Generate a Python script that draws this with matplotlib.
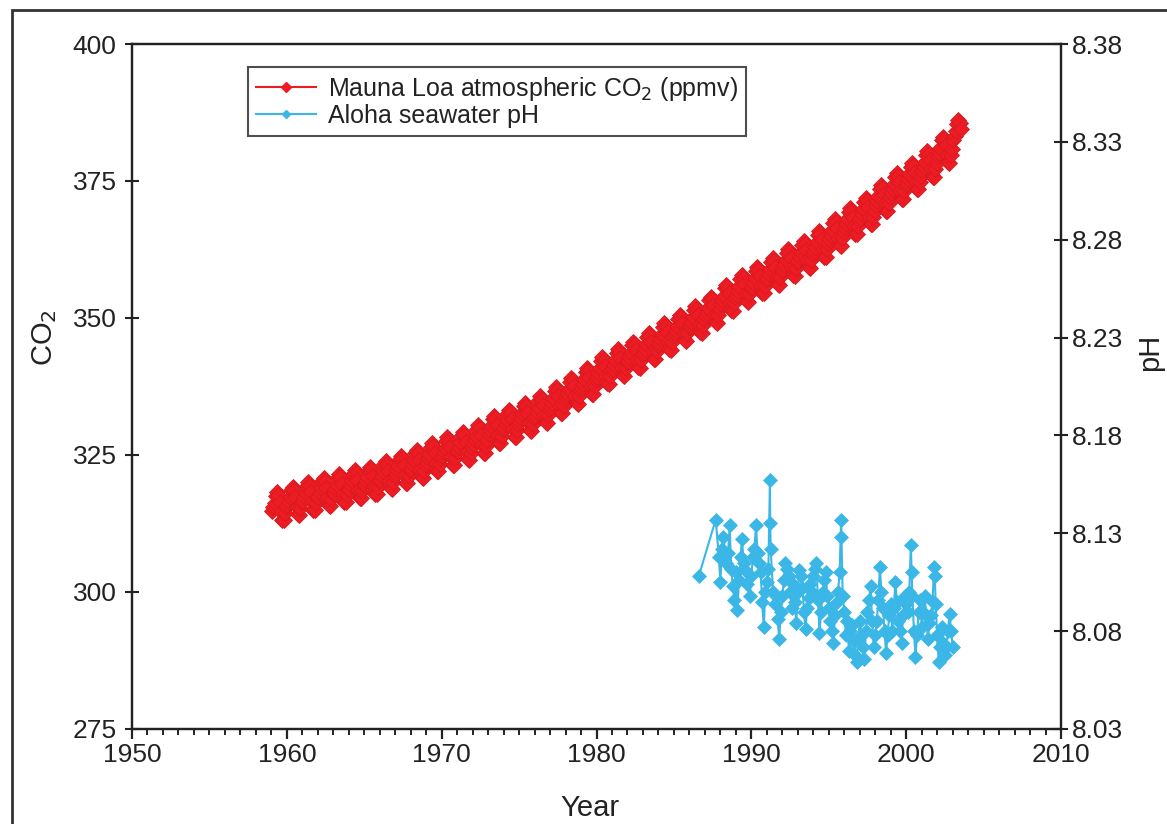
import matplotlib
matplotlib.use('Agg')
import matplotlib.pyplot as plt
from matplotlib.lines import Line2D
from matplotlib.patches import Rectangle

plt.rcParams['font.family'] = ['Liberation Sans', 'DejaVu Sans']

# Mauna Loa CO2 (ppmv): one row per year, monthly Jan..Dec
co2_years = list(range(1959, 2004))
co2_rows = [
    [314.8, 315.5, 316.3, 317.6, 318.2, 317.7, 316.4, 314.6, 313.2, 313.1, 314.4, 315.5],
    [315.8, 316.5, 317.3, 318.6, 319.2, 318.7, 317.4, 315.6, 314.2, 314.1, 315.4, 316.5],
    [316.6, 317.3, 318.1, 319.4, 320.0, 319.5, 318.2, 316.4, 315.0, 314.9, 316.2, 317.3],
    [317.4, 318.1, 318.9, 320.2, 320.8, 320.3, 319.0, 317.2, 315.8, 315.7, 317.0, 318.1],
    [318.1, 318.8, 319.6, 320.9, 321.5, 321.0, 319.7, 317.9, 316.5, 316.4, 317.7, 318.8],
    [318.8, 319.5, 320.3, 321.6, 322.2, 321.7, 320.4, 318.6, 317.2, 317.1, 318.4, 319.5],
    [319.5, 320.2, 321.0, 322.3, 322.9, 322.4, 321.1, 319.3, 317.9, 317.8, 319.1, 320.2],
    [320.5, 321.2, 322.0, 323.3, 323.9, 323.4, 322.1, 320.3, 318.9, 318.8, 320.1, 321.2],
    [321.5, 322.2, 323.0, 324.3, 324.9, 324.4, 323.1, 321.3, 319.9, 319.8, 321.1, 322.2],
    [322.5, 323.2, 324.0, 325.3, 325.9, 325.4, 324.1, 322.3, 320.9, 320.8, 322.1, 323.2],
    [323.7, 324.4, 325.2, 326.5, 327.1, 326.6, 325.3, 323.5, 322.1, 322.0, 323.3, 324.4],
    [324.8, 325.5, 326.3, 327.6, 328.2, 327.7, 326.4, 324.6, 323.2, 323.1, 324.4, 325.5],
    [325.8, 326.5, 327.3, 328.6, 329.2, 328.7, 327.4, 325.6, 324.2, 324.1, 325.4, 326.5],
    [327.0, 327.7, 328.5, 329.8, 330.4, 329.9, 328.6, 326.8, 325.4, 325.3, 326.6, 327.7],
    [328.8, 329.5, 330.3, 331.6, 332.2, 331.7, 330.4, 328.6, 327.2, 327.1, 328.4, 329.5],
    [329.9, 330.6, 331.4, 332.7, 333.3, 332.8, 331.5, 329.7, 328.3, 328.2, 329.5, 330.6],
    [331.1, 331.8, 332.6, 333.9, 334.5, 334.0, 332.7, 330.9, 329.5, 329.4, 330.7, 331.8],
    [332.1, 332.8, 333.7, 335.0, 335.7, 335.2, 334.1, 332.3, 331.0, 330.9, 332.3, 333.4],
    [333.8, 334.5, 335.4, 336.7, 337.4, 336.9, 335.8, 334.0, 332.7, 332.6, 334.0, 335.1],
    [335.5, 336.2, 337.1, 338.4, 339.1, 338.6, 337.5, 335.7, 334.4, 334.3, 335.7, 336.8],
    [337.3, 338.0, 338.9, 340.2, 340.9, 340.4, 339.3, 337.5, 336.2, 336.1, 337.5, 338.6],
    [339.2, 339.9, 340.8, 342.1, 342.8, 342.3, 341.2, 339.4, 338.1, 338.0, 339.4, 340.5],
    [340.7, 341.4, 342.3, 343.6, 344.3, 343.8, 342.7, 340.9, 339.6, 339.5, 340.9, 342.0],
    [342.1, 342.8, 343.7, 345.0, 345.7, 345.2, 344.1, 342.3, 341.0, 340.9, 342.3, 343.4],
    [343.7, 344.4, 345.3, 346.6, 347.3, 346.8, 345.7, 343.9, 342.6, 342.5, 343.9, 345.0],
    [345.4, 346.1, 347.0, 348.3, 349.0, 348.5, 347.4, 345.6, 344.3, 344.2, 345.6, 346.7],
    [347.0, 347.7, 348.6, 349.9, 350.6, 350.1, 349.0, 347.2, 345.9, 345.8, 347.2, 348.3],
    [348.5, 349.2, 350.1, 351.4, 352.1, 351.6, 350.5, 348.7, 347.4, 347.3, 348.7, 349.8],
    [350.3, 351.0, 351.9, 353.2, 353.9, 353.4, 352.3, 350.5, 349.2, 349.1, 350.5, 351.6],
    [352.5, 353.2, 354.1, 355.4, 356.1, 355.6, 354.5, 352.7, 351.4, 351.3, 352.7, 353.8],
    [354.2, 354.9, 355.8, 357.1, 357.8, 357.3, 356.2, 354.4, 353.1, 353.0, 354.4, 355.5],
    [355.7, 356.4, 357.3, 358.6, 359.3, 358.8, 357.7, 355.9, 354.6, 354.5, 355.9, 357.0],
    [357.3, 358.0, 358.9, 360.2, 360.9, 360.4, 359.3, 357.5, 356.2, 356.1, 357.5, 358.6],
    [358.9, 359.6, 360.5, 361.8, 362.5, 362.0, 360.9, 359.1, 357.8, 357.7, 359.1, 360.2],
    [360.4, 361.1, 362.0, 363.3, 364.0, 363.5, 362.4, 360.6, 359.3, 359.2, 360.6, 361.7],
    [362.3, 363.0, 363.9, 365.2, 365.9, 365.4, 364.3, 362.5, 361.2, 361.1, 362.5, 363.6],
    [364.4, 365.1, 366.0, 367.3, 368.0, 367.5, 366.4, 364.6, 363.3, 363.2, 364.6, 365.7],
    [366.5, 367.2, 368.1, 369.4, 370.1, 369.6, 368.5, 366.7, 365.4, 365.3, 366.7, 367.8],
    [368.3, 369.0, 369.9, 371.2, 371.9, 371.4, 370.3, 368.5, 367.2, 367.1, 368.5, 369.6],
    [370.7, 371.4, 372.3, 373.6, 374.3, 373.8, 372.7, 370.9, 369.6, 369.5, 370.9, 372.0],
    [372.9, 373.6, 374.5, 375.8, 376.5, 376.0, 374.9, 373.1, 371.8, 371.7, 373.1, 374.2],
    [374.7, 375.4, 376.3, 377.6, 378.3, 377.8, 376.7, 374.9, 373.6, 373.5, 374.9, 376.0],
    [376.9, 377.6, 378.5, 379.8, 380.5, 380.0, 378.9, 377.1, 375.8, 375.7, 377.1, 378.2],
    [379.5, 380.2, 381.1, 382.4, 383.1, 382.6, 381.5, 379.7, 378.4, 378.3, 379.7, 380.8],
    [382.5, 383.2, 384.1, 385.4, 386.1, 385.6, 384.5],
]

# Aloha seawater pH
ph_year = [1986.6, 1987.7, 1987.9, 1988.0, 1988.1, 1988.2, 1988.35, 1988.5, 1988.6, 1988.7,
           1988.8, 1988.9, 1989.0, 1989.1, 1989.2, 1989.3, 1989.4, 1989.5, 1989.6, 1989.75,
           1989.9, 1990.0, 1990.1, 1990.2, 1990.3, 1990.4, 1990.5, 1990.6, 1990.7, 1990.8,
           1990.9, 1991.0, 1991.1, 1991.2, 1991.22, 1991.25, 1991.4, 1991.5, 1991.6, 1991.7,
           1991.8, 1991.9, 1992.0, 1992.1, 1992.2, 1992.3, 1992.4, 1992.5, 1992.6, 1992.7,
           1992.8, 1992.9, 1993.0, 1993.1, 1993.2, 1993.3, 1993.4, 1993.5, 1993.6, 1993.7,
           1993.8, 1993.9, 1994.0, 1994.1, 1994.2, 1994.3, 1994.4, 1994.5, 1994.6, 1994.7,
           1994.8, 1994.9, 1995.0, 1995.1, 1995.2, 1995.3, 1995.4, 1995.5, 1995.6, 1995.7,
           1995.8, 1995.82, 1995.9, 1996.0, 1996.1, 1996.2, 1996.3, 1996.4, 1996.5, 1996.6,
           1996.7, 1996.8, 1996.9, 1997.0, 1997.1, 1997.2, 1997.3, 1997.4, 1997.5, 1997.6,
           1997.7, 1997.8, 1997.9, 1998.0, 1998.1, 1998.2, 1998.3, 1998.4, 1998.5, 1998.6,
           1998.7, 1998.8, 1998.9, 1999.0, 1999.1, 1999.2, 1999.3, 1999.4, 1999.5, 1999.6,
           1999.7, 1999.8, 1999.9, 2000.0, 2000.1, 2000.2, 2000.3, 2000.35, 2000.4, 2000.5,
           2000.6, 2000.7, 2000.8, 2000.9, 2001.0, 2001.1, 2001.2, 2001.3, 2001.4, 2001.5,
           2001.6, 2001.7, 2001.8, 2001.85, 2001.9, 2002.0, 2002.1, 2002.2, 2002.3, 2002.4,
           2002.5, 2002.6, 2002.7, 2002.8, 2002.9, 2003.0]
ph_value = [8.108, 8.137, 8.118, 8.105, 8.122, 8.128, 8.115, 8.120, 8.134, 8.112,
            8.103, 8.096, 8.110, 8.091, 8.106, 8.118, 8.127, 8.115, 8.111, 8.104,
            8.098, 8.108, 8.118, 8.122, 8.134, 8.120, 8.115, 8.110, 8.095, 8.082,
            8.100, 8.105, 8.112, 8.157, 8.135, 8.122, 8.100, 8.094, 8.098, 8.086,
            8.076, 8.090, 8.098, 8.106, 8.115, 8.112, 8.108, 8.100, 8.092, 8.104,
            8.095, 8.084, 8.100, 8.111, 8.108, 8.102, 8.090, 8.081, 8.092, 8.097,
            8.104, 8.100, 8.108, 8.112, 8.115, 8.096, 8.079, 8.090, 8.100, 8.106,
            8.110, 8.098, 8.092, 8.085, 8.080, 8.074, 8.088, 8.095, 8.100, 8.110,
            8.137, 8.128, 8.098, 8.090, 8.078, 8.085, 8.070, 8.080, 8.083, 8.075,
            8.068, 8.064, 8.076, 8.085, 8.078, 8.072, 8.066, 8.080, 8.090, 8.096,
            8.103, 8.085, 8.072, 8.078, 8.085, 8.096, 8.113, 8.100, 8.092, 8.080,
            8.069, 8.078, 8.088, 8.094, 8.080, 8.092, 8.105, 8.095, 8.085, 8.080,
            8.074, 8.088, 8.098, 8.094, 8.090, 8.100, 8.124, 8.110, 8.098, 8.080,
            8.067, 8.078, 8.090, 8.096, 8.082, 8.090, 8.098, 8.088, 8.076, 8.084,
            8.088, 8.095, 8.113, 8.108, 8.094, 8.078, 8.064, 8.072, 8.082, 8.074,
            8.068, 8.072, 8.080, 8.089, 8.080, 8.072]

co2_x, co2_y = [], []
for yr, row in zip(co2_years, co2_rows):
    for i, v in enumerate(row):
        co2_x.append(yr + (i + 0.5) / 12)
        co2_y.append(v)

RED = '#ED1C24'
BLUE = '#3AB7E6'
INK = '#222222'

fig = plt.figure(figsize=(11.67, 8.24), dpi=100)
ax = fig.add_axes([0.1131, 0.1153, 0.7961, 0.8313])
ax2 = ax.twinx()

ax.plot(co2_x, co2_y, color=RED, lw=1.5, marker='D', ms=8,
        mec='#D81820', mew=0.6, zorder=3)
ax2.plot(ph_year, ph_value, color=BLUE, lw=1.5, marker='D', ms=7,
         mec=BLUE, mew=0.5, zorder=3)

ax.set_xlim(1950, 2010)
ax.set_ylim(275, 400)
ax2.set_ylim(8.03, 8.38)
ax.set_xticks(range(1950, 2011, 10))
ax.set_xticks(range(1950, 2011, 1), minor=True)
ax.set_yticks(range(275, 401, 25))
ph_ticks = [8.03, 8.08, 8.13, 8.18, 8.23, 8.28, 8.33, 8.38]
ax2.set_yticks(ph_ticks)
ax2.set_yticklabels([f'{t:.2f}' for t in ph_ticks])

for a in (ax, ax2):
    for s in a.spines.values():
        s.set_linewidth(1.6)
        s.set_color(INK)

ax.tick_params(axis='x', which='major', direction='out', length=7, width=1.6,
               labelsize=19, colors=INK, pad=3)
ax.tick_params(axis='x', which='minor', direction='out', length=4.5, width=1.4, colors=INK)
ax.tick_params(axis='y', direction='inout', length=10, width=1.5, labelsize=19,
               colors=INK, pad=6)
ax2.tick_params(axis='y', direction='inout', length=10, width=1.5, labelsize=19,
                colors=INK, pad=3)

ax.set_xlabel('Year', fontsize=21, color=INK)
ax.xaxis.set_label_coords(0.493, -0.095)
fig.text(45 / 1167, 1 - 338 / 824, 'CO$_2$', fontsize=21, color=INK,
         rotation=90, ha='center', va='center')
fig.text(1150 / 1167, 1 - 352 / 824, 'pH', fontsize=21, color=INK,
         rotation=90, ha='center', va='center')

handles = [
    Line2D([], [], color=RED, lw=1.5, marker='D', ms=5),
    Line2D([], [], color=BLUE, lw=1.5, marker='D', ms=4),
]
labels = ['Mauna Loa atmospheric CO$_2$ (ppmv)', 'Aloha seawater pH']
leg = ax.legend(handles, labels, loc='upper left', bbox_to_anchor=(0.125, 0.966),
                borderaxespad=0, fontsize=18, frameon=True, fancybox=False,
                handlelength=2.4, handletextpad=0.5, labelspacing=0.05,
                borderpad=0.3)
leg.get_frame().set_edgecolor(INK)
leg.get_frame().set_linewidth(1.5)
for t in leg.get_texts():
    t.set_color(INK)

# outer frame of the figure panel
fig.patches.append(Rectangle((12 / 1167, -0.1), 1.2, 1.1 - 10 / 824,
                             transform=fig.transFigure, fill=False,
                             lw=2, edgecolor='#333333', clip_on=False))

fig.savefig('out.png', dpi=100, facecolor='white')
